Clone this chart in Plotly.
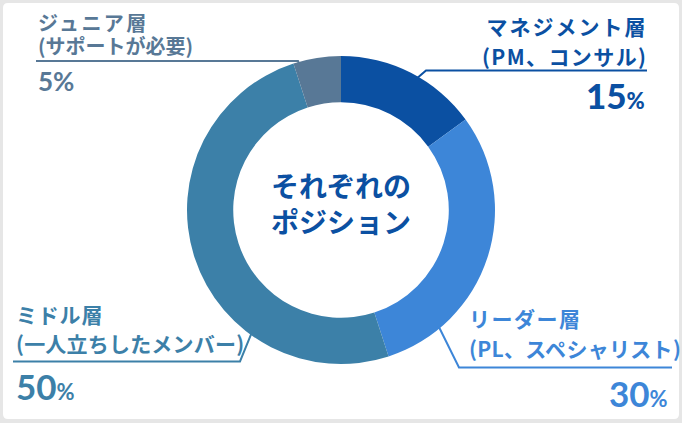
import math
import plotly.graph_objects as go

# ---- data ----
labels = ["マネジメント層", "リーダー層", "ミドル層", "ジュニア層"]
sublabels = ["(PM、コンサル)", "(PL、スペシャリスト)", "(一人立ちしたメンバー)", "(サポートが必要)"]
values = [15, 30, 50, 5]
colors = ["#0b50a2", "#3d86d8", "#3c80a8", "#587896"]
center_title = ["それぞれの", "ポジション"]

# ---- layout constants (pixels) ----
W, H = 682, 423
CX, CY, R = 341, 210, 154
HOLE = 0.70
JP = "Noto Sans CJK JP"
NUM = "Lato"


def px(x):
    return x / W


def py(y):
    return 1 - y / H


fig = go.Figure()
fig.add_trace(go.Pie(
    values=values, labels=labels, sort=False, direction="clockwise", rotation=0,
    hole=HOLE, textinfo="none", hoverinfo="label+percent", showlegend=False,
    marker=dict(colors=colors, line=dict(width=0)),
    domain=dict(x=[px(CX - R), px(CX + R)], y=[py(CY + R), py(CY - R)]),
))

# ym: middle of the two-line label block, gap: line pitch
label_layout = [
    dict(x=647, anchor="right", ym=41, gap=30, yp=95, ry=70.5, rx0=426, rx1=647, ang=30, fs=21, ls1=2.0, ls2=1.4),
    dict(x=467, anchor="left", ym=333, gap=30, yp=393, ry=367.5, rx0=459, rx1=672, ang=140, fs=21, ls1=1.5, ls2=0.3),
    dict(x=14, anchor="left", ym=328.5, gap=29, yp=386, ry=361.5, rx0=13, rx1=240, ang=216, fs=21, ls1=0.8, ls2=0.2),
    dict(x=36, anchor="left", ym=34.5, gap=22.5, yp=81, ry=61, rx0=36, rx1=298, ang=344, fs=20, ls1=2.4, ls2=0.0),
]

shapes = []
annotations = []

x0, y0, x1, y1, rr = 3, 3, 679, 419, 5
path = (f"M {px(x0+rr)},{py(y0)} L {px(x1-rr)},{py(y0)} Q {px(x1)},{py(y0)} {px(x1)},{py(y0+rr)} "
        f"L {px(x1)},{py(y1-rr)} Q {px(x1)},{py(y1)} {px(x1-rr)},{py(y1)} "
        f"L {px(x0+rr)},{py(y1)} Q {px(x0)},{py(y1)} {px(x0)},{py(y1-rr)} "
        f"L {px(x0)},{py(y0+rr)} Q {px(x0)},{py(y0)} {px(x0+rr)},{py(y0)} Z")
shapes.append(dict(type="path", path=path, xref="paper", yref="paper",
                   fillcolor="white", line=dict(width=0), layer="below"))


def styled(txt, fs, ls):
    return f"<span style='font-size:{fs}px;letter-spacing:{ls}px'>{txt}</span>"


for i, lay in enumerate(label_layout):
    c = colors[i]
    a = math.radians(lay["ang"])
    ex, ey = CX + (R - 2) * math.sin(a), CY - (R - 2) * math.cos(a)
    if i in (0, 1):
        elbow, far = lay["rx0"], lay["rx1"]
    else:
        elbow, far = lay["rx1"], lay["rx0"]
    shapes.append(dict(type="path", xref="paper", yref="paper",
                       path=f"M {px(ex)},{py(ey)} L {px(elbow)},{py(lay['ry'])} L {px(far)},{py(lay['ry'])}",
                       line=dict(color=c, width=2)))
    base = lay["gap"] / 1.3
    txt = styled(labels[i], lay["fs"], lay["ls1"]) + "<br>" + styled(sublabels[i], lay["fs"], lay["ls2"])
    xshift = 1.5 if lay["anchor"] == "right" else 0
    annotations.append(dict(text=txt, x=px(lay["x"]), y=py(lay["ym"]), xanchor=lay["anchor"],
                            align=lay["anchor"], xshift=xshift, yanchor="middle",
                            font=dict(family=JP, size=base, color=c, weight=700)))
    if i == 3:
        ptxt = f"{values[i]}%"
        pf = dict(family=NUM, size=26, color=c, weight=700)
    else:
        ptxt = f"{values[i]}<span style='font-size:22px'>%</span>"
        pf = dict(family=NUM, size=35, color=c, weight=900 if i == 0 else 700)
    if i == 1:
        annotations.append(dict(text=ptxt, x=px(670), y=py(lay["yp"]), xanchor="right",
                                yanchor="middle", font=pf))
    else:
        annotations.append(dict(text=ptxt, x=px(lay["x"]), y=py(lay["yp"]), xanchor=lay["anchor"],
                                yanchor="middle", font=pf))

annotations.append(dict(text="<br>".join(center_title), x=px(CX), y=py(CY - 7), xanchor="center",
                        yanchor="middle", font=dict(family=JP, size=28, color=colors[0], weight=700)))

for a in annotations:
    a.update(xref="paper", yref="paper", showarrow=False)

fig.update_layout(
    width=W, height=H, margin=dict(l=0, r=0, t=0, b=0),
    paper_bgcolor="#e6e6e6", plot_bgcolor="white",
    shapes=shapes, annotations=annotations,
)

fig.write_html("out.html", config={"displayModeBar": False},
               post_script="document.body.style.margin='0';document.body.style.overflow='hidden';")
